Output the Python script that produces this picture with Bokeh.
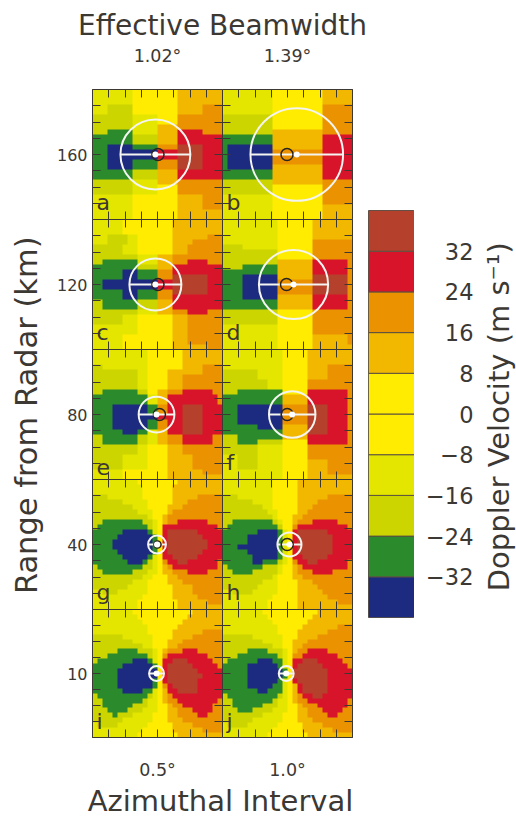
import math
import numpy as np
from bokeh.embed import file_html
from bokeh.layouts import column, row
from bokeh.models import FixedTicker, LinearAxis, LinearColorMapper, Range1d
from bokeh.plotting import figure
from bokeh.resources import INLINE
from bokeh.core.properties import value

PALETTE = ["#1c2a80", "#2b8a2c", "#cdd500", "#e4e600", "#ffec00", "#ffec00",
           "#f2b800", "#ea9200", "#d8142a", "#b5402c"]
VELOCITY_EDGES = [-40, -32, -24, -16, -8, 0, 8, 16, 24, 32, 40]
VELOCITY_TICKS = [-32, -24, -16, -8, 0, 8, 16, 24, 32]
RANGE_LABELS = ["160", "120", "80", "40", "10"]
BEAMWIDTHS = ["1.02°", "1.39°"]
INTERVALS = ["0.5°", "1.0°"]
LETTERS = ["a", "b", "c", "d", "e", "f", "g", "h", "i", "j"]

# Doppler-velocity class per cell, top row first, written as class*count runs
PANEL_A = ["3*8 5*9 6*9"]*3 + ["3*3 2*5 5*9 6*5 7*4"]*2 + ["2*8 3*5 5*4 7*9"]*2 + ["2*8 3*5 6*4 7*9",
 "2*3 1*5 3*5 6*4 8*5 7*4"] + ["1*8 2*5 6*4 8*9"]*2 + ["1*3 0*5 1*5 7*4 9*5 8*4"] + ["1*3 0*10 8*4 9*5 8*4"]*2 + \
 ["1*3 0*5 1*5 7*4 9*5 8*4"]*2 + ["1*8 2*5 6*4 8*9"]*2 + ["2*8 3*5 6*4 7*9"] + ["2*8 3*5 5*4 7*9"]*2 + \
 ["3*8 5*9 6*5 7*4"]*3 + ["3*8 5*9 6*9"]*2
PANEL_B = ["3*10 5*10 6*6"]*3 + ["3*10 5*10 7*6"]*2 + ["2*10 5*10 7*6"]*3 + ["2*10 6*10 7*6"] + ["1*10 6*10 8*6"]*2 + \
 ["1*1 0*9 6*10 8*6"] + ["1*1 0*9 7*10 8*6"]*3 + ["1*1 0*9 6*10 8*6"] + ["1*10 6*10 8*6"]*2 + ["2*10 6*10 7*6"] + \
 ["2*10 5*10 7*6"]*2 + ["3*10 5*10 7*6"]*2 + ["3*10 5*10 6*6"]*3
PANEL_C = ["3*6 5*10 6*10"]*3 + ["3*3 2*4 3*2 5*7 6*7 7*3", "3*3 2*4 3*2 5*7 6*4 7*6"] + ["2*6 3*3 5*7 6*3 7*7"]*2 + \
 ["2*9 3*4 6*3 7*10", "2*2 1*7 3*4 6*3 7*3 8*4 7*3", "1*9 2*4 6*3 8*10", "1*6 0*3 1*4 7*3 8*10",
  "1*6 0*3 1*4 7*3 9*7 8*3"] + ["1*2 0*11 8*3 9*7 8*3"]*2 + ["1*6 0*3 1*4 7*3 9*7 8*3", "1*6 0*3 1*4 7*3 8*10"] + \
 ["2*2 1*7 2*4 6*3 8*10"]*2 + ["2*9 3*4 6*3 7*3 8*4 7*3"] + ["2*6 3*3 5*7 6*3 7*7"]*2 + ["3*9 5*7 6*3 7*7"]*2 + \
 ["3*6 5*10 6*3 7*7"]*2 + ["3*6 5*10 6*7 7*3"]
PANEL_D = ["3*11 5*7 6*8"]*4 + ["3*11 5*7 7*8", "2*4 3*7 5*7 7*8"] + ["2*11 5*7 7*8"]*2 + ["2*11 6*7 8*7 7*1",
 "2*4 1*7 6*7 8*7 7*1", "1*11 6*7 8*7 7*1", "1*4 0*7 6*7 9*7 7*1"] + ["1*4 0*7 7*7 9*7 7*1"]*3 + \
 ["1*4 0*7 6*7 8*7 7*1"] + ["1*11 6*7 8*7 7*1"]*2 + ["2*11 5*7 7*8"]*3 + ["3*11 5*7 7*8"]*2 + \
 ["3*11 5*7 6*7 7*1"]*2 + ["3*11 5*7 6*8"]
PANEL_E = ["3*11 5*7 6*8"]*3 + ["2*2 3*9 5*7 6*4 7*4", "2*9 3*2 5*4 6*7 7*4"] + ["2*9 3*2 5*4 6*3 7*8"]*3 + \
 ["2*2 1*7 2*2 5*2 6*2 7*3 8*6 7*2"] + ["1*11 3*2 6*2 8*10 7*1"]*2 + ["1*4 0*7 1*2 7*2 8*3 9*4 8*4"]*2 + \
 ["1*4 0*9 8*5 9*4 8*4"] + ["1*4 0*7 1*2 7*2 8*3 9*4 8*4"]*2 + ["1*6 0*3 1*2 3*2 6*2 8*3 9*4 8*4"] + \
 ["2*2 1*7 2*2 3*2 6*2 7*3 8*6 7*2"]*2 + ["2*9 3*2 5*4 6*3 7*8"]*2 + ["2*6 3*5 5*4 6*5 7*6"]*3 + \
 ["3*6 5*9 6*7 7*4", "3*6 5*9 6*11"]
PANEL_F = ["3*12 5*5 6*9"]*3 + ["3*12 5*5 6*4 7*5", "2*7 3*5 5*5 6*4 7*5", "2*7 3*5 5*5 6*4 7*5"] + \
 ["2*9 3*3 5*5 7*9"]*2 + ["2*3 1*9 5*5 8*8 7*1"] + ["1*12 6*5 8*8 7*1"]*2 + ["1*3 0*9 7*5 9*4 8*4 7*1"]*4 + \
 ["1*7 0*5 6*5 9*4 8*4 7*1", "1*12 6*5 9*4 8*4 7*1", "2*3 1*9 6*5 8*8 7*1", "2*3 1*4 2*5 5*5 8*8 7*1"] + \
 ["2*7 3*5 5*5 7*9"]*2 + ["3*3 2*4 3*5 5*5 7*9"] + ["3*3 2*4 3*5 5*5 6*4 7*5"]*2 + \
 ["3*12 5*5 6*4 7*5", "3*12 5*5 6*9"]
PANEL_G = ["3*9 5*8 6*9", "3*10 5*6 6*10", "3*10 5*6 6*10", "2*3 3*7 5*6 6*5 7*5", "2*6 3*5 5*5 6*3 7*7",
 "2*8 3*3 5*4 6*3 7*8", "2*9 3*3 5*3 6*1 7*10", "2*11 3*1 5*2 6*1 7*11", "2*2 1*8 2*2 3*1 5*1 6*1 7*2 8*6 7*3",
 "2*1 1*10 2*1 3*1 5*1 8*11 7*1", "1*6 0*5 1*1 3*1 5*1 8*1 9*6 8*5", "1*5 0*7 1*1 5*1 8*1 9*7 8*4",
 "1*4 0*8 1*1 5*1 8*1 9*8 8*3", "1*4 0*8 1*1 5*1 8*1 9*8 8*3", "1*5 0*7 1*1 5*1 8*1 9*7 8*4",
 "1*6 0*5 1*1 3*1 5*1 8*2 9*5 8*5", "1*7 0*3 1*1 2*1 3*1 5*1 7*1 8*2 9*2 8*6 7*1",
 "2*1 1*9 2*2 3*1 5*1 6*1 7*1 8*9 7*1", "2*2 1*6 2*3 3*2 5*1 6*2 7*3 8*4 7*3", "2*10 3*2 5*3 6*2 7*9",
 "2*8 3*3 5*4 6*3 7*8", "2*7 3*4 5*5 6*4 7*6", "3*2 2*3 3*6 5*5 6*4 7*6", "3*10 5*6 6*5 7*5", "3*9 5*8 6*6 7*3",
 "3*9 5*8 6*9"]
PANEL_H = ["3*10 5*5 6*11"]*3 + ["2*3 3*7 5*5 6*6 7*5", "2*6 3*4 5*5 6*4 7*7", "2*8 3*2 5*5 6*3 7*8",
 "2*9 3*2 5*4 6*2 7*9", "2*10 3*1 5*3 6*2 7*10", "2*2 1*8 2*1 3*1 5*2 6*1 7*3 8*5 7*3",
 "2*1 1*10 2*1 5*2 7*1 8*10 7*1", "1*7 0*4 1*1 3*1 5*1 8*1 9*6 8*5", "1*5 0*6 1*1 3*1 5*1 8*1 9*7 8*4",
 "1*5 0*6 1*1 3*1 5*1 8*1 9*7 8*4", "1*3 0*8 1*1 3*1 5*1 8*1 9*7 8*4", "1*5 0*6 1*1 3*1 5*1 8*1 9*7 8*4",
 "1*6 0*5 1*1 3*1 5*1 8*2 9*5 8*5", "1*6 0*2 1*3 2*1 3*1 5*1 7*1 8*2 9*2 8*6 7*1",
 "2*1 1*7 2*3 3*1 5*2 6*1 7*1 8*9 7*1", "2*2 1*4 2*5 3*1 5*2 6*1 7*3 8*4 7*4", "2*10 3*1 5*3 6*2 7*10",
 "2*8 3*3 5*4 6*3 7*8", "2*7 3*4 5*4 6*4 7*7", "3*2 2*4 3*5 5*4 6*5 7*6", "3*10 5*5 6*6 7*5", "3*9 5*6 6*8 7*3",
 "3*9 5*6 6*11"]
PANEL_I = ["3*8 5*12 6*6", "3*9 5*10 6*7", "3*10 5*8 6*8", "3*11 5*6 6*9", "3*11 5*5 6*6 7*4",
 "2*6 3*6 5*4 6*4 7*6", "2*8 3*4 5*3 6*3 7*8", "2*10 3*2 5*3 6*2 7*9", "2*5 1*4 2*3 3*1 5*1 6*1 7*3 8*3 7*5",
 "2*3 1*8 2*1 3*1 5*1 7*1 8*8 7*3", "2*1 1*7 0*3 1*1 3*1 5*1 8*2 9*3 8*5 7*2", "1*6 0*6 1*1 5*1 8*1 9*5 8*5 7*1",
 "1*5 0*8 5*1 8*1 9*6 8*5", "1*5 0*8 5*1 8*1 9*7 8*4", "1*5 0*7 1*1 5*1 8*1 9*6 8*5",
 "1*5 0*7 1*1 5*1 7*1 8*1 9*5 8*5", "1*6 0*4 1*2 3*1 5*1 6*1 8*2 9*4 8*5", "2*1 1*10 2*1 3*1 5*1 6*1 7*1 8*10",
 "2*2 1*8 2*1 3*2 5*1 6*1 7*2 8*8 7*1", "2*2 1*6 2*3 3*2 5*2 6*1 7*2 8*6 7*2", "2*3 1*4 2*3 3*3 5*2 6*2 7*3 8*4 7*2",
 "2*4 1*1 2*3 3*4 5*3 6*2 7*4 8*2 7*3", "2*6 3*6 5*3 6*3 7*8", "3*1 2*4 3*6 5*5 6*4 7*6", "3*10 5*6 6*6 7*4",
 "3*9 5*8 6*9"]
PANEL_J = ["3*8 5*11 6*7", "3*9 5*9 6*8", "3*10 5*7 6*9", "3*11 5*5 6*7 7*3", "3*11 5*4 6*6 7*5",
 "2*6 3*6 5*3 6*4 7*7", "2*8 3*4 5*2 6*3 7*9", "2*10 3*2 5*2 6*2 7*10", "2*5 1*4 2*3 3*1 5*1 6*1 7*2 8*4 7*5",
 "2*3 1*8 2*1 3*1 5*1 7*2 8*7 7*3", "2*1 1*6 0*3 1*2 3*1 5*1 8*2 9*3 8*5 7*2", "1*5 0*6 1*1 3*1 5*1 8*1 9*5 8*5 7*1",
 "1*5 0*7 1*1 5*1 9*7 8*5", "1*5 0*7 1*1 5*1 9*7 8*5", "1*5 0*6 1*1 3*1 5*1 8*1 9*6 8*5",
 "1*5 0*5 1*2 3*1 5*1 6*1 8*1 9*5 8*5", "1*7 0*2 1*3 3*1 5*1 6*1 8*1 9*5 8*5", "2*1 1*10 2*1 3*1 5*1 6*1 7*1 8*2 9*2 8*6",
 "2*2 1*8 2*1 3*2 5*1 6*1 7*2 8*8 7*1", "2*2 1*6 2*3 3*2 5*2 6*1 7*3 8*6 7*1", "2*3 1*3 2*4 3*3 5*2 6*2 7*3 8*4 7*2",
 "2*8 3*4 5*3 6*2 7*4 8*2 7*3", "2*6 3*6 5*3 6*3 7*8", "3*1 2*4 3*6 5*5 6*4 7*6", "3*10 5*6 6*6 7*4",
 "3*9 5*8 6*9"]
PANELS = [PANEL_A, PANEL_B, PANEL_C, PANEL_D, PANEL_E, PANEL_F, PANEL_G, PANEL_H, PANEL_I, PANEL_J]

# Radar-beam overlays, in tick units from the panel centre
BEAM_X = [-0.13, 0.57, -0.13, 0.37, -0.06, 0.29, -0.03, 0.12, -0.06, -0.08]
BEAM_R = [2.15, 2.85, 1.60, 2.13, 1.10, 1.43, 0.55, 0.74, 0.46, 0.46]
VORTEX_X = [0.03, -0.03, 0.03, -0.06, 0.12, -0.02, 0.0, -0.02, None, None]
VORTEX_R = [0.37, 0.37, 0.37, 0.37, 0.37, 0.37, 0.22, 0.37, None, None]

INK = "#3c3833"
FONT = "DejaVu Sans"
TICKS = [-3, -2, -1, 0, 1, 2, 3]
mapper = LinearColorMapper(palette=PALETTE, low=-40, high=40)


def expand(rows):
    out = []
    for r in rows:
        line = []
        for run in r.split():
            lev, n = run.split("*")
            line += [int(lev)] * int(n)
        line = (line + [line[-1]] * 26)[:26]
        out.append(line)
    return (np.array(out[::-1], dtype=float) * 8 - 36)


def dress(ax, label=None, size="16px", standoff=0):
    ax.ticker = FixedTicker(ticks=TICKS)
    ax.major_tick_in = 8
    ax.major_tick_out = 0
    ax.minor_tick_line_color = None
    ax.major_tick_line_color = INK
    ax.major_tick_line_width = 1
    ax.axis_line_color = INK
    ax.major_label_standoff = standoff
    ax.major_label_text_color = INK
    ax.major_label_text_font = FONT
    ax.major_label_text_font_style = "normal"
    if label is None:
        ax.major_label_text_font_size = "0px"
        ax.major_label_overrides = {t: "" for t in TICKS}
    else:
        ax.major_label_text_font_size = size
        ov = {t: "" for t in TICKS}
        ov[0] = label
        ax.major_label_overrides = ov


def panel(i):
    r, c = divmod(i, 2)
    left = c == 0
    top = r == 0
    bottom = r == 4
    h = 130 + (47 if top else 0) + (43 if bottom else 0)
    w = 130 + (44 if left else 16)
    p = figure(width=w, height=h, output_backend="svg", toolbar_location=None,
               x_range=Range1d(-4, 4), y_range=Range1d(-4, 4),
               x_axis_type=None, y_axis_type=None,
               min_border_left=44 if left else 0, min_border_right=0 if left else 16,
               min_border_top=47 if top else 0, min_border_bottom=43 if bottom else 0,
               outline_line_color=INK, background_fill_color=None, border_fill_color=None)
    p.grid.visible = False
    p.image(image=[expand(PANELS[i])], x=-4, y=-4, dw=8, dh=8, color_mapper=mapper)
    for side in ("above", "below", "left", "right"):
        lab = None
        so = 0
        size = "16px"
        if side == "left" and left:
            lab, so = RANGE_LABELS[r], 5
        if side == "above" and top:
            lab, so, size = BEAMWIDTHS[c], 24, "17.5px"
        if side == "below" and bottom:
            lab, so, size = INTERVALS[c], 22, "17.5px"
        ax = LinearAxis()
        dress(ax, lab, size=size, standoff=so)
        p.add_layout(ax, side)
    bx, br = BEAM_X[i], BEAM_R[i]
    p.circle(x=[bx], y=[0], radius=[br], fill_color=None, line_color="#f4f4f0", line_width=2)
    p.segment(x0=[bx - br], y0=[0], x1=[bx + br], y1=[0], line_color="#f4f4f0", line_width=2)
    if VORTEX_X[i] is not None:
        p.circle(x=[VORTEX_X[i]], y=[0], radius=[VORTEX_R[i]], fill_color=None, line_color="#2a2420", line_width=1.5)
    p.scatter(x=[bx], y=[0], size=6, marker="circle", fill_color="white", line_color=None)
    p.text(x=[-3.75], y=[-3.75], text=[LETTERS[i]], text_font=value(FONT), text_font_size="22px",
           text_color=INK, text_baseline="bottom", text_align="left")
    return p


def text_strip(label, width, height, x_pos, y_pos, size, angle=0.0):
    p = figure(width=width, height=height, output_backend="svg", toolbar_location=None,
               x_range=Range1d(0, width), y_range=Range1d(height, 0), x_axis_type=None, y_axis_type=None,
               min_border=0, outline_line_color=None, background_fill_color=None, border_fill_color=None)
    p.text(x=[x_pos], y=[y_pos], text=[label], text_font=value(FONT), text_font_size=size,
           text_color=INK, text_align="center", text_baseline="middle", angle=angle)
    return p


panels = [panel(i) for i in range(10)]
rows = [row(panels[i], panels[i + 1]) for i in range(0, 10, 2)]
left_block = column(text_strip("Effective Beamwidth", 320, 42, 174, 25, "28px"), *rows,
                    text_strip("Azimuthal Interval", 320, 35, 172, 18, "29px"))
range_strip = text_strip("Range from Radar (km)", 48, 817, 26, 411, "30.5px", angle=math.pi / 2)

vel = Range1d(-40, 40)
cb = figure(width=46, height=817, output_backend="svg", toolbar_location=None,
            x_range=Range1d(0, 1), y_range=vel, x_axis_type=None, y_axis_type=None,
            min_border_left=0, min_border_right=0, min_border_top=210, min_border_bottom=200,
            outline_line_color="#555555", background_fill_color=None, border_fill_color=None)
cb.quad(left=0, right=1, bottom=VELOCITY_EDGES[:-1], top=VELOCITY_EDGES[1:], fill_color=PALETTE,
        line_color="#5a5040", line_width=1)

scale = figure(width=64, height=817, output_backend="svg", toolbar_location=None,
               x_range=Range1d(0, 1), y_range=vel, x_axis_type=None, y_axis_type=None,
               min_border_left=62, min_border_right=1, min_border_top=210, min_border_bottom=200,
               outline_line_color=None, background_fill_color=None, border_fill_color=None)
scale_ax = LinearAxis(ticker=FixedTicker(ticks=VELOCITY_TICKS))
scale_ax.major_tick_out = 0
scale_ax.major_tick_in = 0
scale_ax.major_tick_line_color = None
scale_ax.minor_tick_line_color = None
scale_ax.axis_line_color = None
scale_ax.major_label_standoff = 3
scale_ax.major_label_text_font = FONT
scale_ax.major_label_text_font_size = "22.5px"
scale_ax.major_label_text_color = INK
scale_ax.major_label_overrides = {t: str(t).replace("-", "\u2212") for t in VELOCITY_TICKS}
scale.add_layout(scale_ax, "left")
doppler_strip = text_strip("Doppler Velocity (m s\u207b\u00b9)", 38, 817, 20, 414, "29px", angle=math.pi / 2)

page = row(range_strip, left_block, cb, scale, doppler_strip)
open("out.html", "w").write(file_html(page, INLINE))
